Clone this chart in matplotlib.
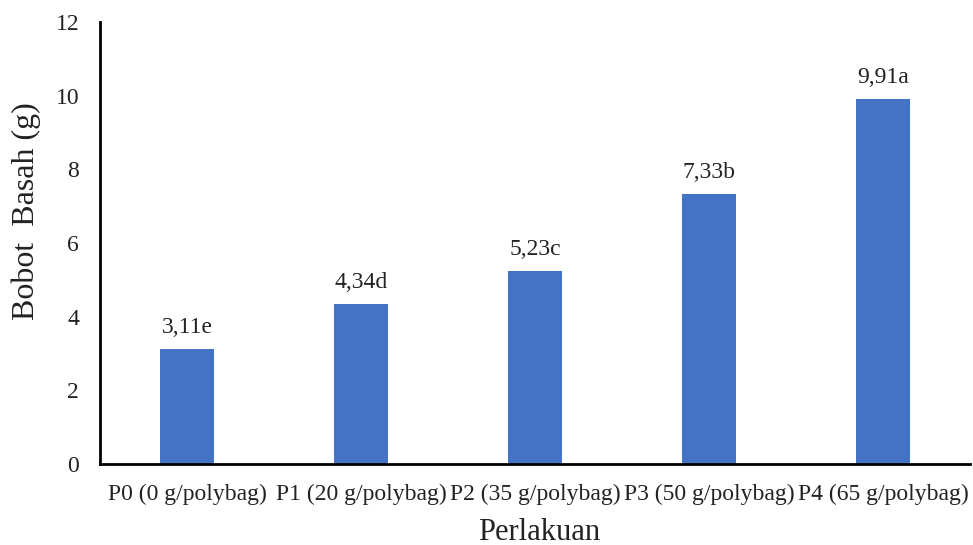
import matplotlib
matplotlib.use("Agg")
import matplotlib.pyplot as plt

categories = ["P0 (0 g/polybag)", "P1 (20 g/polybag)", "P2 (35 g/polybag)",
              "P3 (50 g/polybag)", "P4 (65 g/polybag)"]
values = [3.11, 4.34, 5.23, 7.33, 9.91]
letters = ["e", "d", "c", "b", "a"]
yticks = [0, 2, 4, 6, 8, 10, 12]

plt.rcParams["font.family"] = ["Liberation Serif", "DejaVu Serif"]

fig = plt.figure(figsize=(9.73, 5.45), dpi=100)
ax = fig.add_axes([100 / 973, 1 - 464 / 545, 870 / 973, 442 / 545])

x = range(len(categories))
ax.bar(x, values, width=0.315, color="#4472C4", zorder=2)
for xi, v, l in zip(x, values, letters):
    label = f"{v:.2f}".replace(".", ",") + l
    ax.annotate(label, (xi, v), xytext=(0, 8), textcoords="offset points",
                ha="center", va="bottom", fontsize=17, color="#222222")

ax.set_xlim(-0.5, len(categories) - 0.5)
ax.set_ylim(0, 12)
ax.set_yticks(yticks)
ax.set_yticklabels([str(t) for t in yticks])
ax.set_xticks(list(x))
ax.set_xticklabels(categories)
ax.tick_params(axis="both", length=0, labelsize=17, colors="#222222")
ax.tick_params(axis="y", pad=15)
ax.tick_params(axis="x", pad=14)

for s in ["top", "right"]:
    ax.spines[s].set_visible(False)
for s in ["left", "bottom"]:
    ax.spines[s].set_linewidth(2)
    ax.spines[s].set_color("black")

ax.set_ylabel("Bobot  Basah (g)", fontsize=23, color="#222222")
ax.yaxis.set_label_coords(-74 / 870, (464 - 211) / 442)
ax.set_xlabel("Perlakuan", fontsize=22, color="#222222")
ax.xaxis.set_label_coords((539 - 100) / 870, -(532 - 464) / 442)
ax.xaxis.label.set_va("center")
ax.yaxis.label.set_va("center")

fig.savefig("out.png", dpi=100, facecolor="white")
